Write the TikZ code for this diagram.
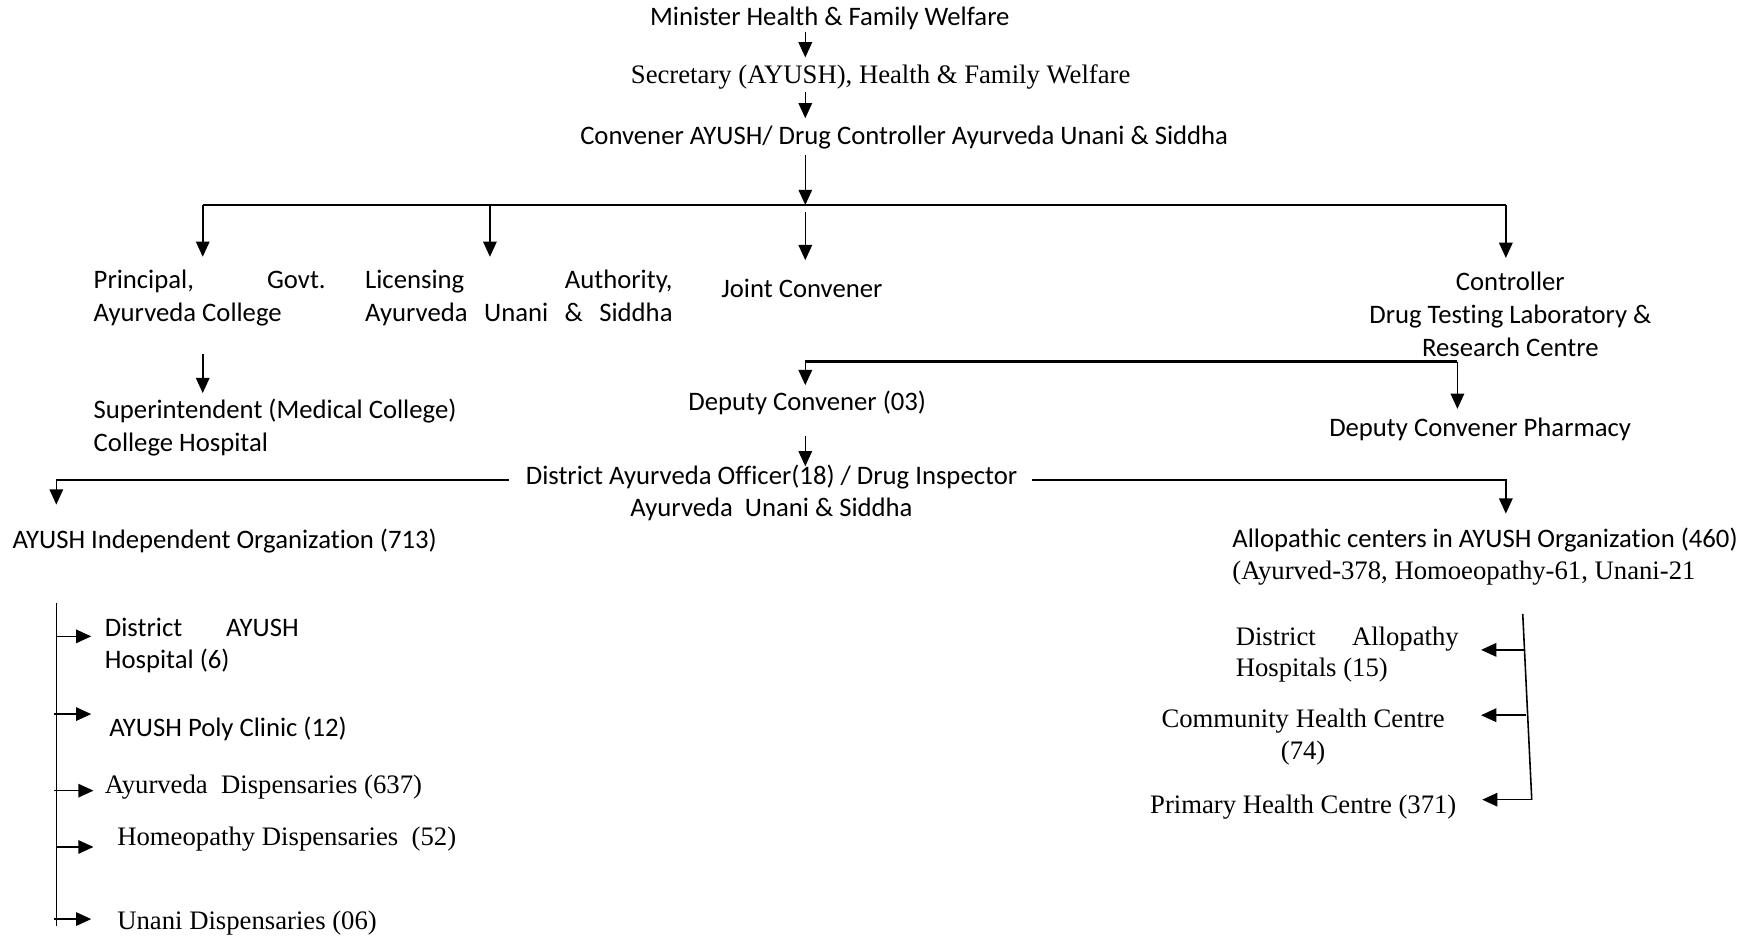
\documentclass[tikz,border=0pt]{standalone}
\usepackage{fontspec}
\setmainfont{Liberation Serif}
\newfontfamily\calibri[Ligatures=NoCommon]{Carlito}
\usetikzlibrary{arrows.meta}
\begin{document}
\begin{tikzpicture}[x=1pt,y=-1pt,
  sans/.style={inner sep=0pt, font=\calibri\fontsize{23.7}{29}\selectfont, align=left},
  serif/.style={inner sep=0pt, font=\fontsize{23.7}{28}\selectfont, align=left},
  arr/.style={-{Triangle[length=13.5pt,width=12pt]}, line width=1.4pt},
  bar/.style={line width=2.2pt},
  thin/.style={line width=1.4pt}]
\useasboundingbox (0,0) rectangle (1560,831);
% ---------- nodes ----------
\node[sans,anchor=west] (minister) at (577,16) {Minister Health \& Family Welfare};
\node[serif,anchor=west] (secretary) at (560,68) {Secretary (AYUSH), Health \& Family Welfare};
\node[sans,anchor=west] (convener) at (515,122) {Convener AYUSH/ Drug Controller Ayurveda Unani \& Siddha};
\node[sans,anchor=west] (principal) at (83,264.5) {\hbox to 206pt{Principal,\hfill Govt.}\\Ayurveda College};
\node[sans,anchor=west] (licensing) at (324,264.5) {\hbox to 273pt{Licensing\hfill Authority,}\\\hbox to 273pt{Ayurveda\hfill Unani\hfill \&\hfill Siddha}};
\node[sans] (joint) at (712,256) {Joint Convener};
\node[sans,align=center] (controller) at (1341,279) {Controller\\Drug Testing Laboratory \&\\Research Centre};
\node[sans,anchor=west] (superint) at (83,379.5) {Superintendent (Medical College)\\College Hospital};
\node[sans,anchor=west] (deputy) at (611,358) {Deputy Convener (03)};
\node[sans,anchor=west] (pharmacy) at (1180,381) {Deputy Convener Pharmacy};
\node[sans,align=center] (dao) at (685,437.5) {District Ayurveda Officer(18) / Drug Inspector\\Ayurveda\ \ Unani \& Siddha};
\node[sans,anchor=west] (indep) at (11,480) {AYUSH Independent Organization (713)};
\node[serif,anchor=west] (allo) at (1094,494) {{\calibri Allopathic centers in AYUSH Organization (460)}\\(Ayurved-378, Homoeopathy-61, Unani-21};
\node[sans,anchor=west] (dah) at (93,573) {\hbox to 172pt{District\hfill AYUSH}\\Hospital (6)};
\node[sans,anchor=west] (poly) at (97,647) {AYUSH Poly Clinic (12)};
\node[serif,anchor=west] (ayur) at (93,699) {Ayurveda\ \ Dispensaries (637)};
\node[serif,anchor=west] (homeo) at (104,745) {Homeopathy Dispensaries\ \ (52)};
\node[serif,anchor=west] (unani) at (104,820) {Unani Dispensaries (06)};
\node[serif,anchor=west] (dal) at (1097,581) {\hbox to 198pt{District\hfill Allopathy}\\Hospitals (15)};
\node[serif,align=center] (chc) at (1157,654.5) {Community Health Centre\\(74)};
\node[serif,anchor=west] (phc) at (1021,717) {Primary Health Centre (371)};
% ---------- coordinates ----------
\coordinate (m1) at (715,28);   \coordinate (m2) at (715,51);
\coordinate (s1) at (715,82);   \coordinate (s2) at (715,105);
\coordinate (c1) at (715,138);  \coordinate (c2) at (715,182);
\coordinate (hl) at (180,182);  \coordinate (hr) at (1337,182);
\coordinate (hp) at (435,182);
\coordinate (j1) at (715,188);
\coordinate (p1) at (180,314);
\coordinate (d1) at (715,321);  \coordinate (d2) at (1294,321);
\coordinate (e1) at (715,387);
\coordinate (l0) at (452,426);  \coordinate (l1) at (50,426);
\coordinate (r0) at (916,426);  \coordinate (r1) at (1337,426);
\coordinate (lb0) at (50,535);  \coordinate (lb1) at (50,822);
\coordinate (rb0) at (1352,545); \coordinate (rb1) at (1360,710);
% ---------- connectors ----------
\draw[arr] (m1) -- (m2);
\draw[arr] (s1) -- (s2);
\draw[arr] (c1) -- (c2);
\draw[bar] (hl) -- (hr);
\draw[arr] (hl) -- (180,228);
\draw[arr] (hp) -- (435,228);
\draw[arr] (j1) -- (715,231);
\draw[arr] (hr) -- (1337,229);
\draw[arr] (p1) -- (180,349);
\draw[bar] (d1) -- (d2);
\draw[arr] (d1) -- (715,342);
\draw[arr] (d2) -- (1294,363);
\draw[arr] (e1) -- (715,414);
\draw[arr] (l0) -- (l1) -- (50,448);
\draw[arr] (r0) -- (r1) -- (1337,456);
\draw[thin] (lb0) -- (lb1);
\draw[arr] (50,565) -- (81,565);
\draw[arr] (48,634) -- (81,634);
\draw[arr] (48,702) -- (83,702);
\draw[arr] (50,752) -- (83,752);
\draw[arr] (48,816) -- (81,816);
\draw[thin] (rb0) -- (rb1);
\draw[arr] (rb1) -- (1316,710);
\draw[arr] (1353.5,577) -- (1315,577);
\draw[arr] (1354.5,635) -- (1315,635);
\end{tikzpicture}
\end{document}
